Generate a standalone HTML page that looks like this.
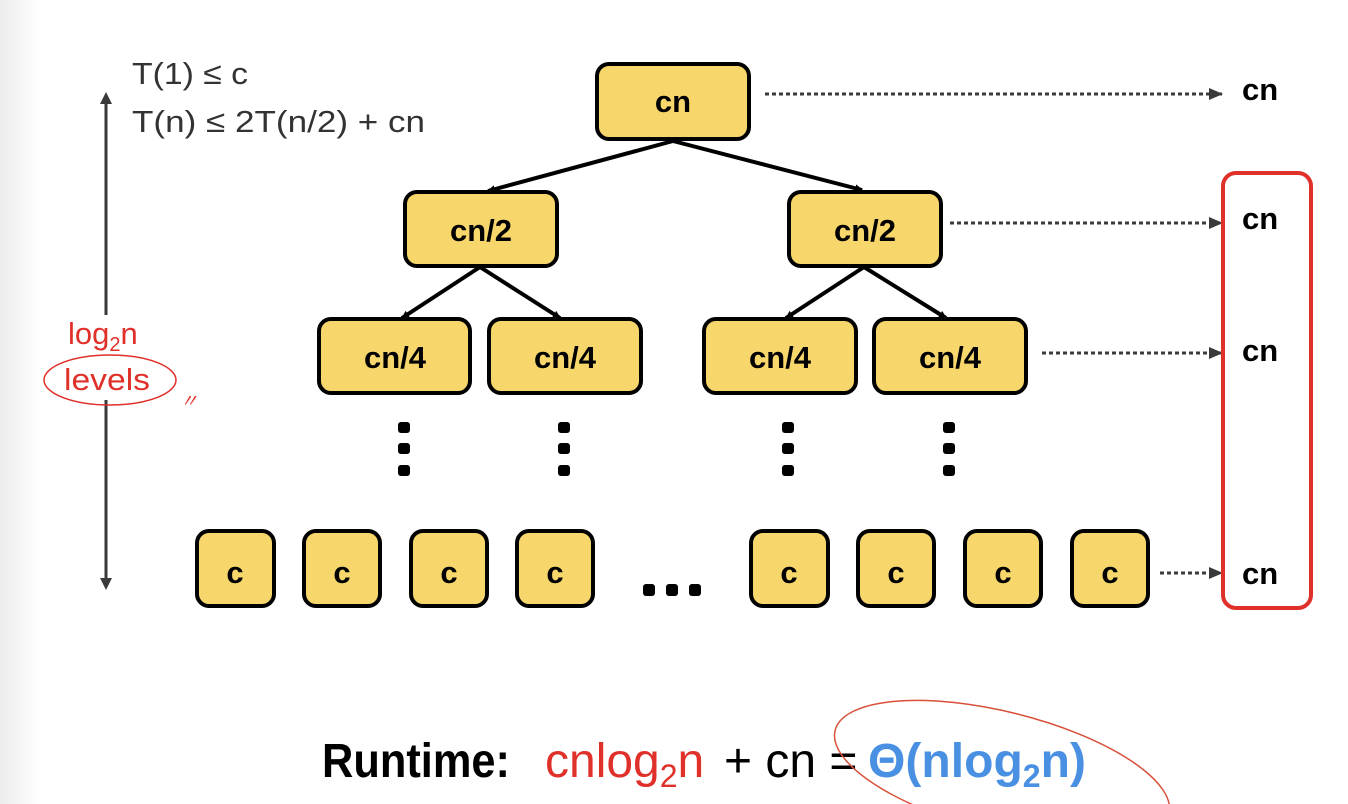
<!DOCTYPE html>
<html><head><meta charset="utf-8"><style>
html,body{margin:0;padding:0;width:1348px;height:804px;overflow:hidden;background:#fff}
svg{display:block}
text{font-family:"Liberation Sans",sans-serif}
</style></head><body>
<svg width="1348" height="804" viewBox="0 0 1348 804" xmlns="http://www.w3.org/2000/svg">
<defs>
<linearGradient id="lg" x1="0" x2="1"><stop offset="0" stop-color="#ececec"/><stop offset="1" stop-color="#fff"/></linearGradient>
<marker id="ah" markerWidth="8" markerHeight="8" refX="7" refY="4" orient="auto" markerUnits="userSpaceOnUse"><path d="M0,0 L8,4 L0,8 z" fill="#000"/></marker>
<marker id="ah2" markerWidth="14" markerHeight="12" refX="13" refY="6" orient="auto" markerUnits="userSpaceOnUse"><path d="M0,0 L14,6 L0,12 z" fill="#3a3a3a"/></marker>
</defs>
<rect x="0" y="0" width="40" height="804" fill="url(#lg)"/>

<line x1="106" y1="96" x2="106" y2="315" stroke="#3a3a3a" stroke-width="3"/>
<path d="M100,104 L106,92 L112,104 z" fill="#3a3a3a"/>
<line x1="106" y1="400" x2="106" y2="580" stroke="#3a3a3a" stroke-width="3"/>
<path d="M100,578 L106,590 L112,578 z" fill="#3a3a3a"/>

<text x="132" y="84" font-size="31" fill="#333" textLength="116" lengthAdjust="spacingAndGlyphs">T(1) ≤ c</text>
<text x="132" y="132" font-size="31" fill="#333" textLength="293" lengthAdjust="spacingAndGlyphs">T(n) ≤ 2T(n/2) + cn</text>

<text x="68" y="344" font-size="31" fill="#e0302a">log<tspan font-size="20" dy="7">2</tspan><tspan dy="-7">n</tspan></text>
<text x="64" y="390" font-size="31" fill="#e0302a" textLength="86" lengthAdjust="spacingAndGlyphs">levels</text>
<ellipse cx="110" cy="380" rx="66" ry="25" fill="none" stroke="#e0302a" stroke-width="1.5"/>
<text x="180" y="407" font-size="18" font-style="italic" fill="#e0302a">〃</text>

<g stroke="#000" stroke-width="4" marker-end="url(#ah)">
<line x1="673" y1="141" x2="488" y2="191"/>
<line x1="673" y1="141" x2="862" y2="190"/>
<line x1="480" y1="267" x2="402" y2="318"/>
<line x1="480" y1="267" x2="560" y2="318"/>
<line x1="864" y1="267" x2="786" y2="318"/>
<line x1="864" y1="267" x2="946" y2="318"/>
</g>

<g fill="#f7d76b" stroke="#000" stroke-width="4">
<rect x="597" y="64" width="152" height="75" rx="12"/>
<rect x="405" y="192" width="152" height="74" rx="12"/>
<rect x="789" y="192" width="152" height="74" rx="12"/>
<rect x="319" y="319" width="151" height="74" rx="12"/>
<rect x="489" y="319" width="152" height="74" rx="12"/>
<rect x="704" y="319" width="152" height="74" rx="12"/>
<rect x="874" y="319" width="152" height="74" rx="12"/>
<rect x="197" y="531" width="77" height="75" rx="12"/>
<rect x="304" y="531" width="76" height="75" rx="12"/>
<rect x="411" y="531" width="76" height="75" rx="12"/>
<rect x="517" y="531" width="76" height="75" rx="12"/>
<rect x="751" y="531" width="77" height="75" rx="12"/>
<rect x="858" y="531" width="76" height="75" rx="12"/>
<rect x="965" y="531" width="76" height="75" rx="12"/>
<rect x="1072" y="531" width="76" height="75" rx="12"/>
</g>
<g font-size="31" font-weight="bold" text-anchor="middle" fill="#000">
<text x="673" y="112">cn</text>
<text x="481" y="241">cn/2</text>
<text x="865" y="241">cn/2</text>
<text x="395" y="368">cn/4</text>
<text x="565" y="368">cn/4</text>
<text x="780" y="368">cn/4</text>
<text x="950" y="368">cn/4</text>
<text x="235" y="583">c</text>
<text x="342" y="583">c</text>
<text x="449" y="583">c</text>
<text x="555" y="583">c</text>
<text x="789" y="583">c</text>
<text x="896" y="583">c</text>
<text x="1003" y="583">c</text>
<text x="1110" y="583">c</text>
</g>

<g fill="#000">
<rect x="398" y="422" width="12" height="11" rx="3"/><rect x="398" y="443" width="12" height="11" rx="3"/><rect x="398" y="465" width="12" height="11" rx="3"/>
<rect x="558" y="422" width="12" height="11" rx="3"/><rect x="558" y="443" width="12" height="11" rx="3"/><rect x="558" y="465" width="12" height="11" rx="3"/>
<rect x="782" y="422" width="12" height="11" rx="3"/><rect x="782" y="443" width="12" height="11" rx="3"/><rect x="782" y="465" width="12" height="11" rx="3"/>
<rect x="943" y="422" width="12" height="11" rx="3"/><rect x="943" y="443" width="12" height="11" rx="3"/><rect x="943" y="465" width="12" height="11" rx="3"/>
<rect x="643" y="584" width="12" height="12" rx="3"/><rect x="666" y="584" width="12" height="12" rx="3"/><rect x="689" y="584" width="12" height="12" rx="3"/>
</g>

<g stroke="#3a3a3a" stroke-width="3" stroke-dasharray="4,3" marker-end="url(#ah2)">
<line x1="765" y1="94" x2="1222" y2="94"/>
<line x1="950" y1="223" x2="1222" y2="223"/>
<line x1="1042" y1="353" x2="1222" y2="353"/>
<line x1="1160" y1="573" x2="1222" y2="573"/>
</g>
<g font-size="31" font-weight="bold" fill="#000">
<text x="1242" y="100">cn</text>
<text x="1242" y="229">cn</text>
<text x="1242" y="361">cn</text>
<text x="1242" y="584">cn</text>
</g>
<rect x="1223" y="173" width="88" height="435" rx="13" fill="none" stroke="#e0302a" stroke-width="4"/>

<g font-size="48">
<text x="322" y="777" font-weight="bold" fill="#000" textLength="188" lengthAdjust="spacingAndGlyphs">Runtime:</text>
<text x="545" y="777" fill="#e0302a">cnlog<tspan font-size="32" dy="10">2</tspan><tspan dy="-10">n</tspan></text>
<text x="724" y="777" fill="#000">+ cn =</text>
<text x="868" y="777" font-weight="bold" fill="#4a90e2" textLength="218" lengthAdjust="spacingAndGlyphs">Θ(nlog<tspan font-size="32" dy="10">2</tspan><tspan dy="-10">n)</tspan></text>
</g>
<ellipse cx="1002" cy="772" rx="172" ry="60" transform="rotate(14 1002 772)" fill="none" stroke="#d8503a" stroke-width="1.5"/>
</svg>
</body></html>
